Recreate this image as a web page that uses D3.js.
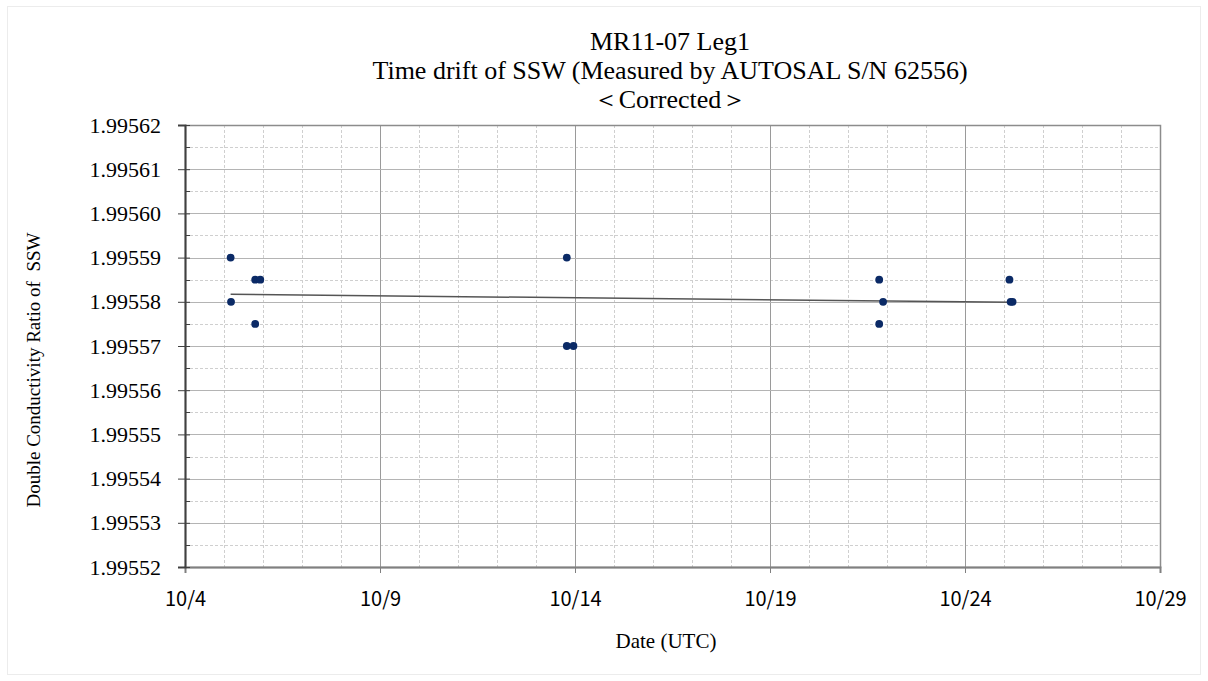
<!DOCTYPE html>
<html>
<head>
<meta charset="utf-8">
<script src="https://cdn.jsdelivr.net/npm/d3@7"></script>
<style>
  body { margin: 0; background: #fff; }
  svg { display: block; }
</style>
</head>
<body>
<div id="chart"></div>
<script>
// measurement day (day of October, decimal) and double conductivity ratio
const days = [5.17, 5.18, 5.80, 5.93, 5.80, 13.79, 13.79, 13.96, 21.80, 21.90, 21.80, 25.14, 25.17, 25.22]
const ratios = [1.99559, 1.99558, 1.995585, 1.995585, 1.995575, 1.99559, 1.99557, 1.99557, 1.995585, 1.99558, 1.995575, 1.995585, 1.99558, 1.99558]

// linear fit line end points
const fitDays = [5.17, 25.2]
const fitRatios = [1.9955817, 1.9955799]

const titleLines = ['MR11-07 Leg1', 'Time drift of SSW (Measured by AUTOSAL S/N 62556)', '＜Corrected＞']
const xTicks = [4, 9, 14, 19, 24, 29]
const yTicks = [1.99552, 1.99553, 1.99554, 1.99555, 1.99556, 1.99557, 1.99558, 1.99559, 1.99560, 1.99561, 1.99562]

const width = 1208, height = 681
const margin = {top: 125, right: 48, bottom: 114, left: 185}
const plotW = width - margin.left - margin.right
const plotH = height - margin.top - margin.bottom

const serif = '"Liberation Serif", "DejaVu Serif", serif'
const gothic = '"Noto Sans CJK JP", "DejaVu Sans", sans-serif'

const svg = d3.select('#chart').append('svg')
    .attr('width', width)
    .attr('height', height)

// faint outer frame
svg.append('rect')
    .attr('x', 7.5).attr('y', 6.5)
    .attr('width', 1193).attr('height', 668)
    .attr('fill', 'none')
    .attr('stroke', '#ececec')

const x = d3.scaleLinear().domain([4, 29]).range([0, plotW])
const y = d3.scaleLinear().domain([1.99552, 1.99562]).range([plotH, 0])

const g = svg.append('g')
    .attr('transform', `translate(${margin.left},${margin.top})`)

// minor grid (dashed)
const minorX = d3.range(4, 30).filter(d => (d - 4) % 5 !== 0)
const minorY = d3.range(0, 10).map(i => 1.99552 + (i + 0.5) * 0.00001)

g.append('g').selectAll('line')
    .data(minorX)
    .enter().append('line')
    .attr('x1', d => Math.round(x(d)) + 0.5).attr('x2', d => Math.round(x(d)) + 0.5)
    .attr('y1', 0).attr('y2', plotH)
    .attr('stroke', '#cfcfcf')
    .attr('stroke-dasharray', '3,2')

g.append('g').selectAll('line')
    .data(minorY)
    .enter().append('line')
    .attr('y1', d => Math.round(y(d)) + 0.5).attr('y2', d => Math.round(y(d)) + 0.5)
    .attr('x1', 0).attr('x2', plotW)
    .attr('stroke', '#cfcfcf')
    .attr('stroke-dasharray', '3,2')

// major grid
g.append('g').selectAll('line')
    .data(xTicks.slice(1, -1))
    .enter().append('line')
    .attr('x1', d => Math.round(x(d)) + 0.5).attr('x2', d => Math.round(x(d)) + 0.5)
    .attr('y1', 0).attr('y2', plotH)
    .attr('stroke', '#9a9a9a')

g.append('g').selectAll('line')
    .data(yTicks.slice(1, -1))
    .enter().append('line')
    .attr('y1', d => Math.round(y(d)) + 0.5).attr('y2', d => Math.round(y(d)) + 0.5)
    .attr('x1', 0).attr('x2', plotW)
    .attr('stroke', '#b4b4b4')

// plot frame
g.append('rect')
    .attr('x', 0.5).attr('y', 0.5)
    .attr('width', plotW).attr('height', plotH)
    .attr('fill', 'none')
    .attr('stroke', '#8c8c8c')
    .attr('stroke-width', 1.5)

// x axis
const xAxis = d3.axisBottom(x)
    .tickValues(xTicks)
    .tickFormat(d => '10/' + d)
    .tickSize(6)
    .tickPadding(19)

const xg = g.append('g')
    .attr('transform', `translate(0,${plotH})`)
    .call(xAxis)
xg.select('.domain').attr('stroke', '#808080').attr('stroke-width', 2)
xg.selectAll('.tick line').attr('stroke', '#808080')
xg.selectAll('text')
    .attr('font-family', gothic)
    .attr('font-size', 20)
    .attr('fill', '#000')

// y axis (major ticks cross the axis, minor ticks inside)
const yAxis = d3.axisLeft(y)
    .tickValues(yTicks)
    .tickFormat(d3.format('.5f'))
    .tickSize(7)
    .tickPadding(17)

const yg = g.append('g').call(yAxis)
yg.select('.domain').attr('stroke', '#404040').attr('stroke-width', 2)
yg.selectAll('.tick line').attr('x2', 5).attr('x1', -7).attr('stroke', '#404040')
yg.selectAll('text')
    .attr('font-family', serif)
    .attr('font-size', 22)
    .attr('fill', '#000')

g.append('g').selectAll('line')
    .data(minorY)
    .enter().append('line')
    .attr('x1', 0).attr('x2', 5)
    .attr('y1', d => Math.round(y(d)) + 0.5).attr('y2', d => Math.round(y(d)) + 0.5)
    .attr('stroke', '#404040')

// trend line
g.append('line')
    .attr('x1', x(fitDays[0])).attr('y1', y(fitRatios[0]))
    .attr('x2', x(fitDays[1])).attr('y2', y(fitRatios[1]))
    .attr('stroke', '#555')
    .attr('stroke-width', 1.5)

// points
g.append('g').selectAll('circle')
    .data(days.map((d, i) => ({day: d, ratio: ratios[i]})))
    .enter().append('circle')
    .attr('cx', d => x(d.day))
    .attr('cy', d => y(d.ratio))
    .attr('r', 3.9)
    .attr('fill', '#0b2a66')

// titles
svg.append('g').selectAll('text')
    .data(titleLines)
    .enter().append('text')
    .attr('x', 670)
    .attr('y', (d, i) => 50 + i * 29)
    .attr('text-anchor', 'middle')
    .attr('font-family', serif)
    .attr('font-size', 26)
    .text(d => d)

svg.append('text')
    .attr('x', 666).attr('y', 648)
    .attr('text-anchor', 'middle')
    .attr('font-family', serif)
    .attr('font-size', 21)
    .text('Date (UTC)')

svg.append('text')
    .attr('transform', 'translate(40,370) rotate(-90)')
    .attr('text-anchor', 'middle')
    .attr('font-family', serif)
    .attr('font-size', 19)
    .style('white-space', 'pre')
    .text('Double Conductivity Ratio of  SSW')
</script>
</body>
</html>
